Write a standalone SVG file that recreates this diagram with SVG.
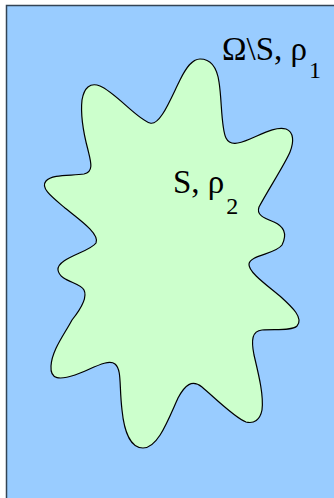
<svg xmlns="http://www.w3.org/2000/svg" width="334" height="498" viewBox="0 0 334 498">
<style>
.lbl{font-family:"Liberation Serif","Times New Roman",serif;font-size:33px;fill:#000}
.sub{font-size:24px}
</style>
<rect width="334" height="498" fill="#ffffff"/>
<g id="omega">
<rect x="6.5" y="5.5" width="340" height="500" fill="#99ccff" stroke="#334455" stroke-width="1.5"/>
<text class="lbl" x="222" y="60">Ω\S, ρ<tspan class="sub" dx="2" dy="18">1</tspan></text>
</g>
<g id="S">
<path d="M200,59 C211,59 217,68 219,82 C222,100 221,128 226,138 C230,146 238,144 250,139 C262,134 276,126 286,129 C294,132 294,142 290,152 C285,164 268,190 259,207 C256,215 264,218 274,222 C283,226 288,233 282,245 C276,254 250,255 249,264 C248,272 268,286 281,297 C292,307 304,318 297,326 C292,331 275,329 262,330 C252,331 251,340 254,355 C258,372 264,395 262,410 C260,420 254,424 246,422 C235,418 215,398 202,387 C192,379 185,385 178,398 C168,420 158,448 143,448 C130,448 124,430 122,410 C119,385 122,370 115,364 C108,358 90,370 75,375 C60,380 50,380 51,366 C52,350 64,335 72,320 C80,310 88,298 84,290 C80,282 60,282 58,270 C57,258 90,252 96,243 C100,234 80,220 65,208 C52,197 40,188 46,181 C52,174 72,176 84,174 C94,172 91,162 88,150 C84,135 80,118 82,100 C84,88 90,82 100,86 C115,92 138,120 150,123 C160,126 170,100 180,80 C186,68 192,59 200,59 Z" fill="#ccffcc" stroke="#000" stroke-width="1.2"/>
<text class="lbl" x="173" y="193">S, ρ<tspan class="sub" dx="2" dy="21">2</tspan></text>
</g>
<g id="connectors"/>
</svg>
